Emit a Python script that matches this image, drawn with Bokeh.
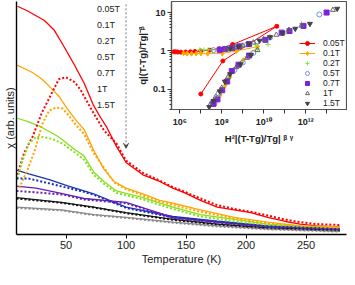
from bokeh.plotting import figure
from bokeh.models import (GridBox, Legend, LegendItem, Arrow, VeeHead, FixedTicker, Range1d)
from bokeh.embed import file_html
from bokeh.resources import INLINE

FONT = "Liberation Sans"

fields = ["0.05T", "0.1T", "0.2T", "0.5T", "0.7T", "1T", "1.5T"]
colors = ["#ff0000", "#ffa500", "#84e21c", "#1a32b4", "#6a1fb4", "#151515", "#8a8a8a"]

# ---- main panel: field-cooled (solid) curves, chi in arb. units ----
fc_005_T = [9.5, 18, 32, 40, 48, 57, 65, 73, 79, 84, 92, 100, 114, 128, 139, 149, 162, 176, 190, 204, 218, 232, 245, 259, 278]
fc_005_y = [24.1, 23.6, 22.6, 21.6, 19.9, 17.9, 16.0, 13.6, 12.3, 11.3, 9.3, 7.6, 6.3, 5.6, 4.9, 4.4, 3.6, 2.9, 2.6, 2.3, 1.8, 1.4, 1.1, 0.9, 0.8]
fc_01_T = [8.7, 22, 30, 38, 44, 51, 58, 65, 73, 81.5, 90, 100, 114, 128, 139, 162, 190, 218, 245, 278]
fc_01_y = [17.9, 17.1, 16.4, 15.4, 14.6, 13.3, 12.1, 11.1, 8.9, 6.9, 5.6, 4.9, 4.3, 3.6, 3.3, 2.6, 1.8, 1.3, 0.9, 0.8]
fc_02_T = [8.7, 19, 30, 44, 58, 65, 73, 81.5, 92, 114, 139, 162, 190, 218, 278]
fc_02_y = [12.3, 11.9, 11.3, 10.3, 8.9, 8.3, 6.6, 5.6, 4.6, 3.9, 2.9, 2.1, 1.6, 1.1, 0.6]
fc_05_T = [8.7, 19, 36, 52, 65, 73, 100, 139, 176, 218, 278]
fc_05_y = [6.8, 6.4, 5.8, 5.1, 4.6, 4.3, 2.9, 1.9, 1.4, 0.9, 0.6]
fc_07_T = [8.7, 25, 44, 65, 100, 139, 176, 218, 278]
fc_07_y = [5.1, 4.9, 4.4, 3.8, 3.4, 1.8, 1.3, 0.85, 0.55]
fc_1_T = [8.7, 46, 73, 100, 139, 176, 218, 278]
fc_1_y = [3.9, 3.4, 2.9, 2.3, 1.6, 1.1, 0.7, 0.45]
fc_15_T = [8.7, 46, 73, 100, 139, 176, 218, 278]
fc_15_y = [2.9, 2.6, 2.1, 1.8, 1.3, 0.9, 0.6, 0.35]

# ---- main panel: zero-field-cooled (dotted) curves ----
zfc_005_T = [9.5, 15, 22, 30, 38, 44, 50, 57, 62, 65, 73, 81.5, 92, 100, 114, 128, 139, 149, 162, 176, 190, 204, 218, 232, 245, 259, 278]
zfc_005_y = [6.3, 8.6, 10.3, 12.9, 14.9, 16.4, 16.6, 16.1, 15.3, 14.6, 12.8, 11.0, 9.6, 7.8, 6.5, 5.7, 5.0, 4.5, 3.8, 3.1, 2.7, 2.4, 2.0, 1.6, 1.3, 1.1, 1.0]
zfc_01_T = [11, 18, 24, 30, 36, 42, 47, 52, 58, 65, 73, 82, 90, 100, 114, 128, 139, 162, 190, 218, 245, 278]
zfc_01_y = [4.9, 6.9, 8.9, 11.6, 13.1, 13.4, 13.3, 12.6, 11.6, 10.6, 8.6, 7.0, 5.5, 4.8, 4.1, 3.5, 3.1, 2.4, 1.7, 1.2, 0.85, 0.7]
zfc_02_T = [9.5, 14, 19, 25, 30, 38, 47, 58, 65, 73, 82, 92, 114, 139, 162, 190, 218, 278]
zfc_02_y = [5.9, 7.9, 9.6, 10.3, 10.3, 10.1, 9.6, 8.6, 7.9, 6.3, 5.3, 4.4, 3.7, 2.7, 1.9, 1.4, 1.0, 0.5]
zfc_05_T = [8.7, 19, 36, 52, 65, 73, 100, 139, 176, 218, 278]
zfc_05_y = [5.9, 5.9, 5.4, 4.9, 4.5, 4.2, 2.8, 1.8, 1.35, 0.85, 0.55]
zfc_07_T = [8.7, 30, 48, 65, 100, 139, 176, 218, 278]
zfc_07_y = [4.6, 4.4, 4.2, 3.7, 3.3, 1.75, 1.25, 0.8, 0.5]
zfc_1_T = [8.7, 46, 73, 100, 139, 176, 218, 278]
zfc_1_y = [3.8, 3.35, 2.85, 2.25, 1.55, 1.05, 0.65, 0.4]
zfc_15_T = [8.7, 46, 73, 100, 139, 176, 218, 278]
zfc_15_y = [2.8, 2.55, 2.05, 1.75, 1.25, 0.85, 0.55, 0.3]

arrow_T = 100
arrow_top = 24.3
arrow_tip = 9.1

# ---- inset: scaling plot ----
ins_005_x = [1.0e7, 1.12e8, 4.2e10, 3.3e8, 7.6e7, 2.6e7, 1.0e7, 5.2e6, 3.2e6, 1.9e6, 1.12e6, 7.9e5, 6.3e5, 5.2e5]
ins_005_y = [0.076, 0.55, 4.4, 1.48, 1.15, 1.05, 1.0, 0.97, 0.95, 0.94, 0.93, 0.94, 0.95, 0.95]
ins_01_x = [5.0e7, 8.5e7, 1.45e8, 2.45e8, 5.1e8, 1.07e9, 2.0e9, 5.2e9, 5.0e8, 1.05e8, 2.1e7, 1.0e7, 6.0e6, 3.6e6, 2.2e6, 1.5e6]
ins_01_y = [0.042, 0.072, 0.126, 0.21, 0.40, 0.58, 0.76, 1.3, 1.0, 0.86, 0.85, 0.86, 0.86, 0.85, 0.86, 0.87]
ins_02_x = [8.9e6, 1.4e7, 2.2e7, 3.5e7, 6.3e7, 1.26e8, 3.2e8, 1.0e9, 4.0e9, 1.6e10, 1.0e11, 6.3e11,
            4.5e7, 8.9e7, 2.0e8, 5.0e8, 1.6e9, 5.0e9]
ins_02_y = [1.07, 1.07, 1.07, 1.07, 1.1, 1.12, 1.2, 1.32, 1.45, 1.48, 2.8, 5.1,
            0.05, 0.1, 0.2, 0.38, 0.71, 1.12]
ins_05_x = [4.0e7, 7.9e7, 2.0e8, 5.0e8, 1.6e9, 5.0e9, 2.0e10, 7.9e10, 4.5e12,
            3.5e7, 7.1e7, 1.6e8, 4.0e8, 1.0e9, 3.2e9]
ins_05_y = [1.05, 1.1, 1.17, 1.29, 1.48, 1.78, 2.24, 3.0, 8.9,
            0.045, 0.079, 0.16, 0.32, 0.5, 0.89]
ins_07_x = [7.9e7, 1.45e8, 3.2e8, 6.9e8, 2.0e9, 1.2e10, 7.2e10, 1.7e11, 7.9e11, 1.0e13,
            4.0e7, 6.2e7, 1.05e8, 1.8e8, 3.0e8, 6.3e8, 2.0e9]
ins_07_y = [1.07, 1.12, 1.2, 1.32, 1.51, 1.95, 3.0, 3.3, 4.5, 10.0,
            0.042, 0.055, 0.095, 0.16, 0.30, 0.44, 0.76]
ins_1_x = [1.6e8, 4.0e8, 1.0e9, 3.2e9, 1.0e10, 4.0e10, 1.6e11, 6.3e11, 2.0e13,
           2.8e7, 5.0e7, 1.0e8, 2.0e8, 5.0e8, 1.6e9, 5.0e9]
ins_1_y = [1.1, 1.23, 1.38, 1.66, 2.0, 2.63, 3.55, 4.57, 11.7,
           0.04, 0.063, 0.11, 0.21, 0.38, 0.66, 1.05]
ins_15_x = [2.5e8, 6.3e8, 2.0e9, 6.3e9, 2.0e10, 7.9e10, 3.2e11, 1.6e12, 3.2e13,
            2.5e7, 4.0e7, 7.9e7, 1.4e8, 2.5e8, 7.9e8, 2.5e9]
ins_15_y = [1.15, 1.29, 1.51, 1.86, 2.29, 2.95, 3.8, 5.1, 12.6,
            0.035, 0.05, 0.089, 0.16, 0.25, 0.45, 0.79]

inset_xticks = [1e6, 1e7, 1e8, 1e9, 1e10, 1e11, 1e12, 1e13]
inset_xlabels = ["10⁶", "", "10⁸", "", "10¹⁰", "", "10¹²", ""]
inset_yticks = [0.1, 1, 10]
inset_ylabels = ["0.1", "1", "10"]
inset_yminor = [0.03, 0.04, 0.05, 0.06, 0.07, 0.08, 0.09, 0.2, 0.3, 0.4, 0.5, 0.6, 0.7, 0.8, 0.9,
                2, 3, 4, 5, 6, 7, 8, 9]

W, H = 347, 269
INS_W, INS_H = 214, 146

# ================= main figure =================
p = figure(width=W, height=H, x_range=Range1d(8.7, 283.7), y_range=Range1d(0, 24.6),
           output_backend="svg", toolbar_location=None,
           min_border_left=14, min_border_right=0, min_border_top=0, min_border_bottom=35)
p.outline_line_color = None
p.grid.visible = False

fc_sets = [(fc_005_T, fc_005_y), (fc_01_T, fc_01_y), (fc_02_T, fc_02_y), (fc_05_T, fc_05_y),
           (fc_07_T, fc_07_y), (fc_1_T, fc_1_y), (fc_15_T, fc_15_y)]
zfc_sets = [(zfc_005_T, zfc_005_y), (zfc_01_T, zfc_01_y), (zfc_02_T, zfc_02_y), (zfc_05_T, zfc_05_y),
            (zfc_07_T, zfc_07_y), (zfc_1_T, zfc_1_y), (zfc_15_T, zfc_15_y)]

solid_renderers = []
for (T, y), c in zip(fc_sets, colors):
    solid_renderers.append(p.line(T, y, line_color=c, line_width=1.3))
for (T, y), c in zip(zfc_sets, colors):
    p.line(T, y, line_color=c, line_width=2, line_dash="2 2")

p.add_layout(Arrow(x_start=arrow_T, y_start=arrow_top, x_end=arrow_T, y_end=arrow_tip,
                   line_color="#777777", line_width=1, line_dash="2 2",
                   end=VeeHead(size=5, line_color="#555555", line_width=1)))

xa, ya = p.xaxis[0], p.yaxis[0]
xa.ticker = FixedTicker(ticks=[50, 100, 150, 200, 250])
xa.axis_label = "Temperature (K)"
xa.major_tick_in = 0
xa.major_tick_out = 4
xa.major_tick_line_color = "black"
xa.minor_tick_line_color = None
xa.major_label_standoff = 2
xa.axis_label_standoff = 1
ya.ticker = FixedTicker(ticks=[])
ya.axis_label = "χ (arb. units)"
ya.major_tick_in = 0
ya.major_tick_out = 0
ya.major_tick_line_color = None
ya.minor_tick_line_color = None
ya.major_label_standoff = 0
ya.axis_label_standoff = 1
for ax in (xa, ya):
    ax.axis_line_color = "black"
    ax.axis_line_width = 1.4
    ax.major_label_text_font = FONT
    ax.major_label_text_font_size = "11px"
    ax.major_label_text_color = "#222222"
    ax.axis_label_text_font = FONT
    ax.axis_label_text_font_size = "11px"
    ax.axis_label_text_font_style = "normal"
    ax.axis_label_text_color = "#222222"

main_legend = Legend(items=[LegendItem(label=f, renderers=[r]) for f, r in zip(fields, solid_renderers)],
                     location=(81, 121), glyph_width=0, glyph_height=16, label_height=16,
                     label_standoff=0, spacing=0, padding=0, margin=0,
                     border_line_color=None, background_fill_alpha=0,
                     label_text_font=FONT, label_text_font_size="9px", label_text_color="#222222")
p.add_layout(main_legend)

# ================= inset figure =================
ins = figure(width=INS_W, height=INS_H, x_axis_type="log", y_axis_type="log",
             x_range=Range1d(10 ** 5.6, 10 ** 13.95), y_range=Range1d(0.030, 19.4),
             output_backend="svg", toolbar_location=None,
             min_border_left=31, min_border_right=1, min_border_top=1, min_border_bottom=36)
ins.grid.visible = False
ins.outline_line_color = "#555555"
ins.outline_line_width = 1.2

r005_l = ins.line(ins_005_x, ins_005_y, line_color=colors[0], line_width=1)
r005_m = ins.scatter(ins_005_x, ins_005_y, marker="circle", size=4, fill_color=colors[0], line_color=colors[0])
r01_l = ins.line(ins_01_x, ins_01_y, line_color="#ffaa00", line_width=1)
r01_m = ins.scatter(ins_01_x, ins_01_y, marker="diamond", size=5, fill_color="#ffaa00", line_color="#ffaa00")
r02 = ins.scatter(ins_02_x, ins_02_y, marker="cross", size=5, line_color="#7de83a", line_width=1)
r05 = ins.scatter(ins_05_x, ins_05_y, marker="circle", size=5, fill_color=None, line_color="#6f8fe8", line_width=1)
r07 = ins.scatter(ins_07_x, ins_07_y, marker="square", size=5, fill_color="#7a22e0", line_color="#7a22e0")
r1 = ins.scatter(ins_1_x, ins_1_y, marker="triangle", size=5, fill_color=None, line_color="#666666", line_width=1)
r15 = ins.scatter(ins_15_x, ins_15_y, marker="inverted_triangle", size=5, fill_color="#444444", line_color="#444444")

ins.xaxis.ticker = FixedTicker(ticks=inset_xticks)
ins.xaxis.major_label_overrides = {t: s for t, s in zip(inset_xticks, inset_xlabels)}
ins.yaxis.ticker = FixedTicker(ticks=inset_yticks, minor_ticks=inset_yminor)
ins.yaxis.major_label_overrides = {t: s for t, s in zip(inset_yticks, inset_ylabels)}
ins.xaxis.axis_label = "H²|(T-Tg)/Tg| ᵝ ᵞ"
ins.yaxis.axis_label = "q|(T-Tg)/Tg|⁻ᵝ"
for ax in (ins.xaxis[0], ins.yaxis[0]):
    ax.axis_line_color = "#555555"
    ax.axis_line_width = 1.2
    ax.major_tick_in = 0
    ax.major_tick_out = 4
    ax.major_tick_line_color = "#333333"
    ax.minor_tick_in = 0
    ax.minor_tick_out = 2
    ax.minor_tick_line_color = "#333333"
    ax.major_label_standoff = 3
    ax.major_label_text_font = FONT
    ax.major_label_text_font_size = "9px"
    ax.major_label_text_font_style = "bold"
    ax.major_label_text_color = "#222222"
    ax.axis_label_text_font = FONT
    ax.axis_label_text_font_size = "9.5px"
    ax.axis_label_text_font_style = "bold"
    ax.axis_label_text_color = "#222222"
    ax.axis_label_standoff = 3
ins.yaxis[0].major_label_standoff = 2
ins.yaxis[0].axis_label_standoff = 2

ins_items = [LegendItem(label=fields[0], renderers=[r005_l, r005_m]),
             LegendItem(label=fields[1], renderers=[r01_l, r01_m]),
             LegendItem(label=fields[2], renderers=[r02]),
             LegendItem(label=fields[3], renderers=[r05]),
             LegendItem(label=fields[4], renderers=[r07]),
             LegendItem(label=fields[5], renderers=[r1]),
             LegendItem(label=fields[6], renderers=[r15])]
ins_legend = Legend(items=ins_items, location=(128, 1), glyph_width=16, glyph_height=10, label_height=10,
                    label_standoff=8, label_width=30, spacing=0, padding=0, margin=0,
                    border_line_color=None, background_fill_alpha=0,
                    label_text_font=FONT, label_text_font_size="8.5px", label_text_color="#222222")
ins.add_layout(ins_legend)

layout = GridBox(children=[(p, 0, 0, 2, 2), (ins, 0, 1)],
                 cols=[f"{W - INS_W}px", f"{INS_W}px"], rows=[f"{INS_H}px", f"{H - INS_H}px"], spacing=0)

open("out.html", "w").write(file_html(layout, INLINE))
